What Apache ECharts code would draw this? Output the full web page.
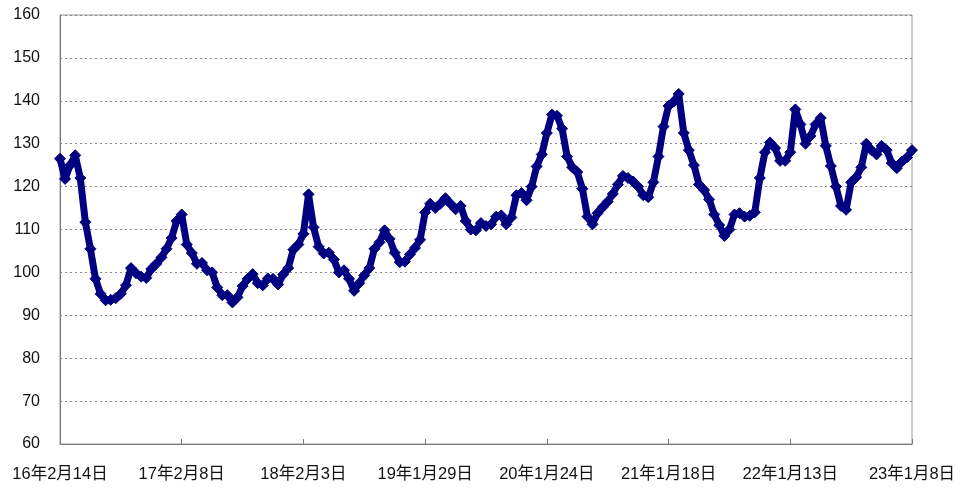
<!DOCTYPE html>
<html>
<head>
<meta charset="utf-8">
<script src="https://cdn.jsdelivr.net/npm/echarts@6/dist/echarts.min.js"></script>
<style>
  html, body { margin: 0; padding: 0; background: #fff; }
  #chart { width: 963px; height: 490px; }
</style>
</head>
<body>
<div id="chart"></div>
<script>
  // 起始日期，每15天一个点
  var startDate = Date.UTC(2016, 1, 14)
  var stepDays = 15

  var values = [
    126.5, 121.8, 125.0, 127.3, 122.0, 111.7, 105.5, 98.5, 95.0, 93.5,
    93.6, 94.0, 95.0, 97.0, 101.0, 99.8, 99.0, 98.7, 100.8, 102.0,
    103.5, 105.5, 108.0, 112.0, 113.5, 106.5, 104.5, 102.0, 102.2, 100.5,
    100.0, 96.5, 94.7, 94.7, 93.0, 94.2, 96.8, 98.5, 99.6, 97.5,
    97.0, 98.6, 98.5, 97.2, 99.5, 101.0, 105.3, 106.5, 109.0, 118.2,
    110.5, 106.0, 104.4, 104.6, 103.0, 100.0, 100.5, 98.5, 95.7, 97.5,
    99.3, 101.0, 105.5, 107.0, 109.8, 107.8, 104.6, 102.4, 102.5, 104.2,
    105.7, 107.6, 114.0, 116.0, 115.0, 116.0, 117.3, 116.0, 114.7, 115.5,
    112.0, 110.0, 109.8, 111.5, 110.8, 111.2, 113.0, 113.3, 111.2, 112.8,
    118.0, 118.5, 116.8, 120.0, 124.7, 127.5, 132.5, 136.8, 136.5, 133.5,
    127.0, 124.5, 123.4, 119.5, 113.0, 111.2, 113.8, 115.2, 116.5, 118.3,
    120.5, 122.5, 122.0, 121.2, 120.0, 118.0, 117.5, 121.0, 127.0, 134.0,
    138.8, 139.8, 141.6, 132.5, 128.5, 125.0, 120.5, 119.2, 117.0, 113.5,
    111.0, 108.5, 110.0, 113.5, 113.8, 113.0, 113.2, 114.0, 122.0, 128.0,
    130.3, 129.0, 126.0, 126.0, 128.0, 138.0, 134.5, 130.0, 131.8, 134.5,
    136.0, 129.5, 124.8, 120.0, 115.5, 114.6, 121.0, 122.2, 124.5, 130.0,
    128.5, 127.5, 129.5, 128.5, 125.5, 124.3, 125.8, 126.8, 128.5
  ]

  var yTicks = {min: 60, max: 160, interval: 10}

  var categories = []
  for (var i = 0; i < values.length; i++) {
    var d = new Date(startDate + i * stepDays * 86400000)
    categories.push(String(d.getUTCFullYear()).slice(2) + '年' + (d.getUTCMonth() + 1) + '月' + d.getUTCDate() + '日')
  }

  var font = 'Liberation Sans, Arial, Noto Sans CJK SC'
  var chart = echarts.init(document.getElementById('chart'))
  chart.setOption({
    animation: false,
    grid: {left: 60, top: 15, right: 51, bottom: 46, show: true, borderColor: '#9a9a9a', borderWidth: 1},
    xAxis: {
      type: 'category',
      data: categories,
      boundaryGap: false,
      axisLine: {lineStyle: {color: '#7a7a7a', width: 1}},
      axisTick: {show: true, inside: true, length: 5, interval: 23, lineStyle: {color: '#7a7a7a'}},
      axisLabel: {interval: 23, color: '#111', fontSize: 16.5, fontFamily: font, margin: 22, showMaxLabel: true}
    },
    yAxis: {
      type: 'value',
      min: yTicks.min,
      max: yTicks.max,
      interval: yTicks.interval,
      axisLine: {show: true, lineStyle: {color: '#7a7a7a', width: 1}},
      axisTick: {show: false},
      axisLabel: {color: '#111', fontSize: 16, fontFamily: font, margin: 20},
      splitLine: {lineStyle: {color: '#8a8a8a', type: [2, 3], width: 1}}
    },
    series: [{
      type: 'line',
      data: values,
      symbol: 'diamond',
      symbolSize: 11,
      showAllSymbol: true,
      lineStyle: {color: '#000080', width: 7, join: 'round'},
      itemStyle: {color: '#000080', borderColor: '#000080'}
    }]
  })
</script>
</body>
</html>
